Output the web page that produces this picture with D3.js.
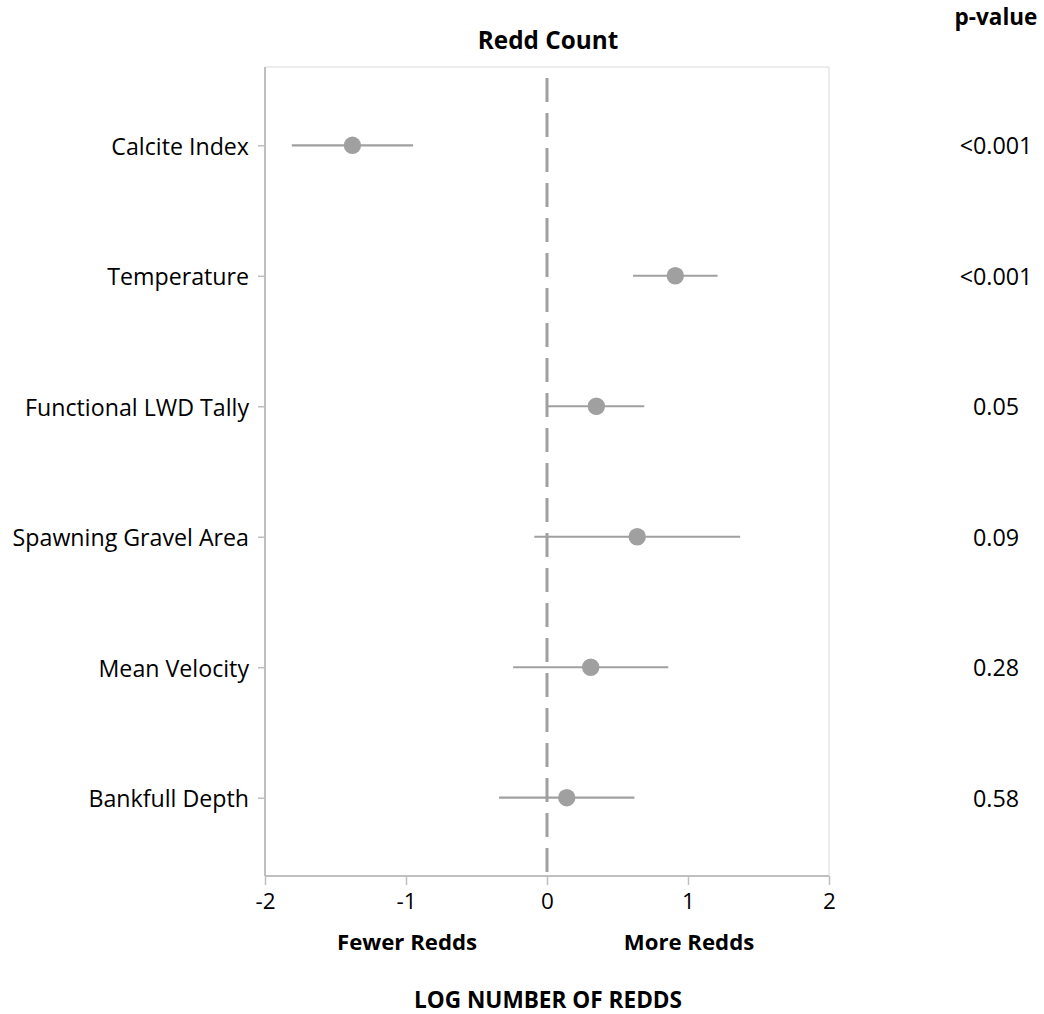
<!DOCTYPE html>
<html><head><meta charset="utf-8">
<script src="https://cdn.jsdelivr.net/npm/d3@7"></script>
<style>body{margin:0;background:#fff;} text{font-family:"Open Sans",sans-serif;}</style>
</head><body>
<svg id="c" width="1044" height="1014"></svg>
<script>
const categories = ["Calcite Index","Temperature","Functional LWD Tally","Spawning Gravel Area","Mean Velocity","Bankfull Depth"];
const estimates = [-1.38, 0.91, 0.35, 0.64, 0.31, 0.14];
const lower = [-1.81, 0.61, 0.00, -0.09, -0.24, -0.34];
const upper = [-0.95, 1.21, 0.69, 1.37, 0.86, 0.62];
const pValues = ["<0.001","<0.001","0.05","0.09","0.28","0.58"];
const xTicks = [-2,-1,0,1,2];

const svg = d3.select("#c");
const L=265, R=829, T=67, B=876;
const x = d3.scaleLinear().domain([-2,2]).range([L,R]);
const y = d3.scalePoint().domain(categories).range([T,B]).padding(0.6);
const grey = "#a0a0a0";

svg.append("line").attr("x1",L).attr("x2",R).attr("y1",T).attr("y2",T).attr("stroke","#d9d9d9");
svg.append("line").attr("x1",R).attr("x2",R).attr("y1",T).attr("y2",B).attr("stroke","#d9d9d9");

svg.append("line").attr("x1",x(0)).attr("x2",x(0)).attr("y1",78).attr("y2",B)
  .attr("stroke",grey).attr("stroke-width",3).attr("stroke-dasharray","24,11");

const xa = svg.append("g").attr("transform",`translate(0,${B})`)
  .call(d3.axisBottom(x).tickValues(xTicks).tickSize(9).tickFormat(d=>String(d)));
const ya = svg.append("g").attr("transform",`translate(${L},0)`)
  .call(d3.axisLeft(y).tickSize(7).tickPadding(9));
[xa,ya].forEach(g=>{
  g.select(".domain").attr("stroke","#bfbfbf").attr("stroke-width",2);
  g.selectAll(".tick line").attr("stroke","#bfbfbf").attr("stroke-width",1.5);
  g.selectAll("text").attr("fill","#000").style("font-family","'Open Sans',sans-serif");
});
xa.select(".domain").attr("d",`M${L},0H${R}`);
ya.select(".domain").attr("d",`M0,${T}V${B}`);
xa.selectAll("text").attr("font-size",22.5).attr("dy","0.71em").attr("y",17);
ya.selectAll("text").attr("font-size",23.2).attr("dy","0.38em");

svg.append("g").selectAll("line").data(categories).join("line")
  .attr("x1",(d,i)=>x(lower[i])).attr("x2",(d,i)=>x(upper[i]))
  .attr("y1",d=>y(d)).attr("y2",d=>y(d)).attr("stroke",grey).attr("stroke-width",2.2);
svg.append("g").selectAll("circle").data(categories).join("circle")
  .attr("cx",(d,i)=>x(estimates[i])).attr("cy",d=>y(d)).attr("r",8.7).attr("fill",grey);

svg.append("g").selectAll("text").data(categories).join("text")
  .attr("x",996).attr("y",d=>y(d)).attr("dy","0.38em").attr("text-anchor","middle")
  .attr("font-size",23.3).text((d,i)=>pValues[i]);

const txt=(t,xx,yy,fs,w)=>svg.append("text").attr("x",xx).attr("y",yy).attr("text-anchor","middle")
  .attr("font-size",fs).attr("font-weight",w).attr("fill","#000").text(t);
txt("p-value",996,25,22.5,"bold");
txt("Redd Count",548,49,24.3,"bold");
txt("Fewer Redds",407,950,22.2,"bold");
txt("More Redds",689,950,22.2,"bold");
txt("LOG NUMBER OF REDDS",548,1008,22.6,"bold");
</script>
</body></html>
